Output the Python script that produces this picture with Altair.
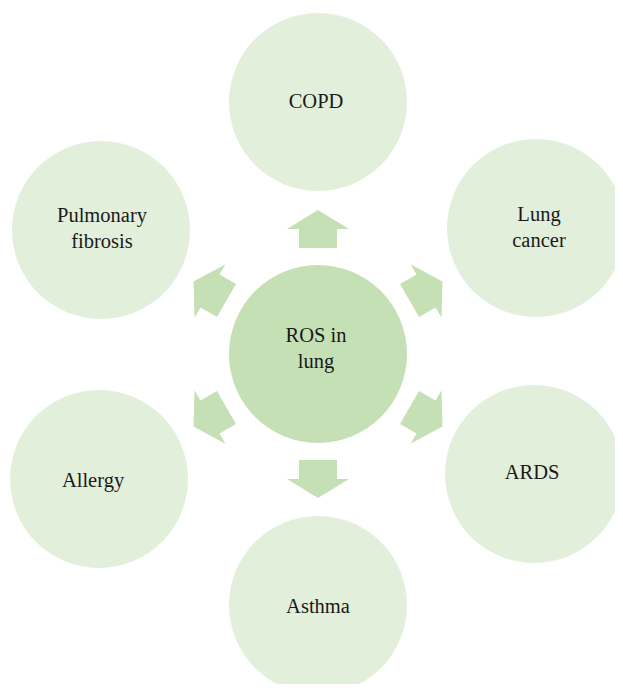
import altair as alt
import pandas as pd

# Outer nodes (page pixel coordinates)
node_labels = ["COPD", "Lung\ncancer", "ARDS", "Asthma", "Allergy", "Pulmonary\nfibrosis"]
node_x = [318, 536, 534, 318, 99, 101]
node_y = [102, 228, 474, 605, 479, 230]
# label anchor = middle of the first text line
label_x = [316, 539, 532, 318, 93, 102]
label_y = [102, 215, 473, 607, 481, 216]

# Centre node
center_label = ["ROS in\nlung"]
center_x = [318]
center_y = [354]
center_label_x = [316]
center_label_y = [336]

# Arrows (direction in degrees clockwise from up)
arrow_angle = [0, 60, 120, 180, 240, 300]
arrow_x = [318, 426, 426, 318, 210, 210]
arrow_y = [229, 291, 417, 479, 417, 291]

W, H = 607, 676
xs = alt.Scale(domain=[8, 8 + W], nice=False, zero=False)
ys = alt.Scale(domain=[8, 8 + H], nice=False, zero=False, reverse=True)

D = 178  # circle diameter in px
circle_size = D * D

nodes = pd.DataFrame({"label": node_labels, "x": node_x, "y": node_y,
                      "lx": label_x, "ly": label_y})
center = pd.DataFrame({"label": center_label, "x": center_x, "y": center_y,
                       "lx": center_label_x, "ly": center_label_y})
arrows = pd.DataFrame({"angle": arrow_angle, "x": arrow_x, "y": arrow_y})

outer = alt.Chart(nodes).mark_circle(size=circle_size, color="#E2EFDA", opacity=1, strokeWidth=0).encode(
    x=alt.X("x:Q", scale=xs, axis=None), y=alt.Y("y:Q", scale=ys, axis=None))

mid = alt.Chart(center).mark_circle(size=circle_size, color="#C5E0B4", opacity=1, strokeWidth=0).encode(
    x=alt.X("x:Q", scale=xs, axis=None), y=alt.Y("y:Q", scale=ys, axis=None))

arrow_path = "M -0.613 0.613 L -0.613 0 L -1 0 L 0 -0.613 L 1 0 L 0.613 0 L 0.613 0.613 Z"
arr = alt.Chart(arrows).mark_point(shape=arrow_path, filled=True, size=62 * 62,
                                   color="#C5E0B4", opacity=1, strokeWidth=0).encode(
    x=alt.X("x:Q", scale=xs, axis=None), y=alt.Y("y:Q", scale=ys, axis=None),
    angle=alt.Angle("angle:Q", scale=None))

txt_props = dict(font="Liberation Serif", fontSize=20.5, color="#1a1a1a", lineBreak="\n",
                 lineHeight=26, align="center", baseline="middle")
outer_txt = alt.Chart(nodes).mark_text(**txt_props).encode(
    x=alt.X("lx:Q", scale=xs, axis=None), y=alt.Y("ly:Q", scale=ys, axis=None), text="label:N")
mid_txt = alt.Chart(center).mark_text(**txt_props).encode(
    x=alt.X("lx:Q", scale=xs, axis=None), y=alt.Y("ly:Q", scale=ys, axis=None), text="label:N")

chart = alt.layer(outer, mid, arr, outer_txt, mid_txt).properties(
    width=W, height=H, autosize=alt.AutoSizeParams(type="none"), padding=0
).configure_view(stroke=None)

chart.save("out.html", embed_options={"renderer": "svg", "actions": False})
